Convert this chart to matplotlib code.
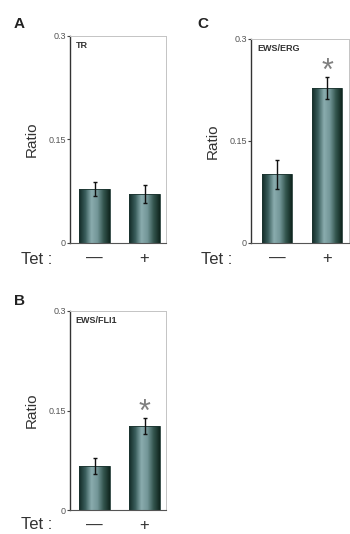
import numpy as np
import matplotlib
matplotlib.use("Agg")
import matplotlib.pyplot as plt
from matplotlib.colors import LinearSegmentedColormap

plt.rcParams["font.family"] = ["Liberation Sans", "DejaVu Sans"]

# ── DATOS ─────────────────────────────────────────────
paneles = ["A", "B", "C"]
genes = ["TR", "EWS/FLI1", "EWS/ERG"]
tet_labels = ["—", "+"]
ratio_A = [0.078, 0.071]
error_A = [0.010, 0.013]
ratio_B = [0.066, 0.127]
error_B = [0.012, 0.012]
ratio_C = [0.101, 0.228]
error_C = [0.021, 0.016]
signif_A = [False, False]
signif_B = [False, True]
signif_C = [False, True]
yticks = [0, 0.15, 0.3]
yticklabels = ["0", "0.15", "0.3"]
# ──────────────────────────────────────────────────

W, H = 350, 534
fig = plt.figure(figsize=(W / 100, H / 100), dpi=100)
fig.patch.set_facecolor("white")

# degradado horizontal de las barras (bordes oscuros, centro claro)
cmap_barra = LinearSegmentedColormap.from_list(
    "barra", ["#122a26", "#3a5e5c", "#8aacae", "#739698", "#34564f", "#10261f"])


def px_axes(left, top, right, bottom):
    return fig.add_axes([left / W, 1 - bottom / H, (right - left) / W, (bottom - top) / H])


def dibujar_panel(ax, valores, errores, signif, gen, xlim, ancho):
    x = np.arange(len(valores))
    barras = ax.bar(x, valores, ancho, facecolor="none", edgecolor="#1d3531",
                    linewidth=0.6, zorder=2)
    grad = np.linspace(0, 1, 64).reshape(1, -1)
    for b in barras:
        x0 = b.get_x()
        im = ax.imshow(grad, cmap=cmap_barra, aspect="auto", zorder=1,
                       extent=[x0, x0 + b.get_width(), 0, b.get_height()])
        im.set_clip_path(b)
    ax.errorbar(x, valores, yerr=errores, fmt="none", ecolor="#111111",
                elinewidth=1.0, capsize=1.6, capthick=1.0, zorder=3)
    for xi, v, e, s in zip(x, valores, errores, signif):
        if s:
            # asterisco de significancia sobre la barra de error
            ax.text(xi, v + e - 0.004, "*", ha="center", va="baseline",
                    fontsize=22, color="#808080", zorder=4)
    ax.set_xlim(*xlim)
    ax.set_ylim(0, 0.3)
    ax.set_yticks(yticks)
    ax.set_yticklabels(yticklabels)
    ax.tick_params(axis="y", length=2, width=0.8, color="#444444",
                   labelsize=6.5, labelcolor="#555555", pad=1)
    ax.set_xticks(x)
    ax.set_xticklabels(tet_labels)
    ax.tick_params(axis="x", length=0, labelsize=12, labelcolor="#333333", pad=6)
    for lado in ["top", "right"]:
        ax.spines[lado].set_color("#c4c4c4")
        ax.spines[lado].set_linewidth(0.7)
    ax.spines["left"].set_color("#333333")
    ax.spines["left"].set_linewidth(1.0)
    ax.spines["bottom"].set_color("#555555")
    ax.spines["bottom"].set_linewidth(0.8)
    ax.set_ylabel("Ratio", fontsize=11, color="#333333", labelpad=7)
    ax.text(0.06, 0.975, gen, transform=ax.transAxes, ha="left", va="top",
            fontsize=6.5, fontweight="bold", color="#333333")
    ax.set_facecolor("white")


axA = px_axes(70, 36, 166, 243)
dibujar_panel(axA, ratio_A, error_A, signif_A, genes[0], (-0.49, 1.43), 0.62)
axB = px_axes(70, 311, 166, 510)
dibujar_panel(axB, ratio_B, error_B, signif_B, genes[1], (-0.49, 1.43), 0.62)
axC = px_axes(251, 39, 349, 243)
dibujar_panel(axC, ratio_C, error_C, signif_C, genes[2], (-0.52, 1.44), 0.6)

# letras de panel y "Tet :"
for letra, (lx, ly) in zip(paneles, [(14, 28), (14, 305), (197, 28)]):
    fig.text(lx / W, 1 - ly / H, letra, fontsize=11, fontweight="bold",
             color="#222222", ha="left", va="baseline")
for tx, ty in [(21, 264), (21, 529), (201, 264)]:
    fig.text(tx / W, 1 - ty / H, "Tet :", fontsize=12, color="#333333",
             ha="left", va="baseline")

fig.savefig("out.png", dpi=100, facecolor="white")
